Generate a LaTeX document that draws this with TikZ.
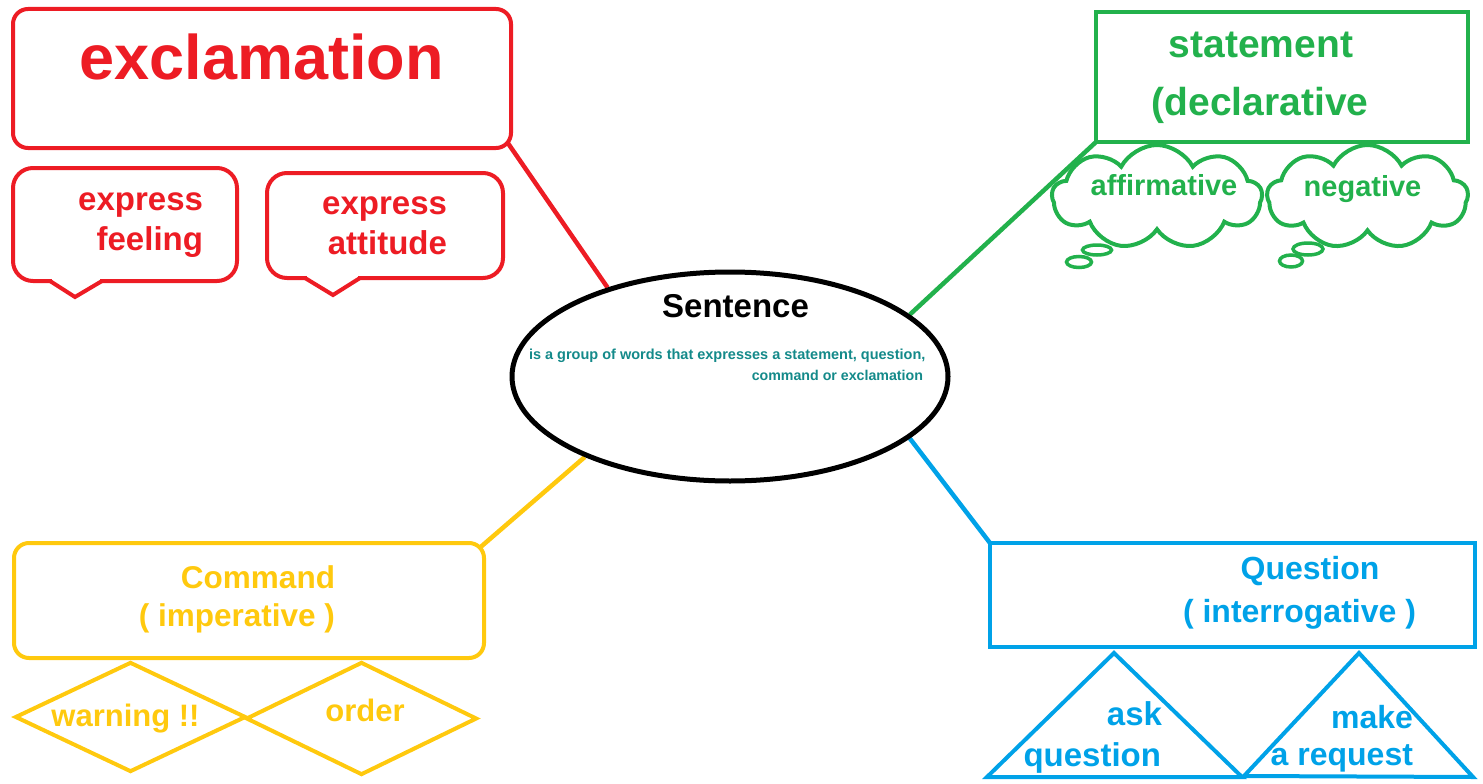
\documentclass[tikz,border=0pt]{standalone}
\usepackage{fontspec}
\setmainfont{Liberation Sans}
\usetikzlibrary{shapes.geometric,shapes.symbols,calc}
\definecolor{cred}{RGB}{237,28,36}
\definecolor{cgreen}{RGB}{34,177,76}
\definecolor{cyellow}{RGB}{255,201,14}
\definecolor{cblue}{RGB}{0,162,232}
\definecolor{cteal}{RGB}{20,138,138}
\pgfdeclarelayer{background}
\pgfsetlayers{background,main}
\newcommand{\fsz}[1]{\fontsize{#1}{#1}\selectfont\bfseries}
\begin{document}
\begin{tikzpicture}[x=1pt,y=-1pt,
  shapebox/.style={draw=#1, line width=4pt, inner sep=0pt, outer sep=0pt, fill=white},
  txt/.style={inner sep=0pt, outer sep=0pt, anchor=base},
  conn/.style={line width=4.5pt},
  cloudsh/.style={cloud, cloud puffs=9, cloud puff arc=125, aspect=2, draw=cgreen, line width=4pt, inner sep=0pt},
  puff/.style={ellipse, draw=cgreen, line width=3.5pt, inner sep=0pt},
  dia/.style={diamond, draw=cyellow, line width=4pt, inner sep=0pt},
  tri/.style={draw=cblue, line width=4pt, line join=miter},
  tail/.style={draw=cred, line width=4pt, line join=miter},
]
\useasboundingbox (0,0) rectangle (1483,784);

% exclamation
\node[shapebox=cred, rounded corners=15pt, minimum width=498pt, minimum height=139pt] (excl) at (262,78.5) {};
\node[txt, text=cred, font=\fsz{63}] (exclT) at (261.7,80) {exclamation};

% speech bubbles
\node[shapebox=cred, rounded corners=20pt, minimum width=224pt, minimum height=113pt] (bub1) at (125,224.5) {};
\fill[white] (52,278) rectangle (100,284);
\draw[tail] (50,281) -- (75,297) -- (102,281);
\node[txt, anchor=base east, text=cred, font=\fsz{33}] (b1a) at (203,210) {express};
\node[txt, anchor=base east, text=cred, font=\fsz{33}] (b1b) at (203,250.7) {feeling};

\node[shapebox=cred, rounded corners=20pt, minimum width=236pt, minimum height=105pt] (bub2) at (385,225.5) {};
\fill[white] (307,275) rectangle (358,281);
\draw[tail] (305,278) -- (333,295) -- (360,278);
\node[txt, anchor=base east, text=cred, font=\fsz{33}] (b2a) at (447,214) {express};
\node[txt, anchor=base east, text=cred, font=\fsz{33}] (b2b) at (447,254) {attitude};

% statement
\node[shapebox=cgreen, minimum width=372pt, minimum height=130pt] (stmt) at (1282,77) {};
\node[txt, text=cgreen, font=\fsz{39}] (stmtA) at (1261,58) {statement};
\node[txt, text=cgreen, font=\fsz{39}] (stmtB) at (1260,115) {(declarative};

% clouds
\node[cloudsh, minimum width=210pt, minimum height=104pt] (cl1) at (1157,197) {};
\node[puff, minimum width=29pt, minimum height=10pt] (p1a) at (1097,250) {};
\node[puff, minimum width=25pt, minimum height=11pt] (p1b) at (1079,262) {};
\node[txt, text=cgreen, font=\fsz{29}] (cl1T) at (1164,195) {affirmative};

\node[cloudsh, minimum width=201pt, minimum height=104pt] (cl2) at (1367.5,197) {};
\node[puff, minimum width=30pt, minimum height=12pt] (p2a) at (1308,249) {};
\node[puff, minimum width=23pt, minimum height=12pt] (p2b) at (1291,261) {};
\node[txt, text=cgreen, font=\fsz{29}] (cl2T) at (1362.5,196) {negative};

% sentence
\node[ellipse, draw=black, line width=5pt, fill=white, minimum width=436pt, minimum height=209pt, inner sep=0pt] (sent) at (730,376.5) {};
\node[txt, font=\fsz{33}] (sentT) at (735.5,317) {Sentence};
\node[txt, anchor=base west, text=cteal, font=\fsz{14.5}] (sentA) at (529,359) {is a group of words that expresses a statement, question,};
\node[txt, anchor=base east, text=cteal, font=\fsz{14.2}] (sentB) at (923,380) {command or exclamation};

% command
\node[shapebox=cyellow, rounded corners=15pt, minimum width=470pt, minimum height=115pt] (cmd) at (249,600.5) {};
\node[txt, anchor=base east, text=cyellow, font=\fsz{31.5}] (cmdA) at (335,588) {Command};
\node[txt, anchor=base east, text=cyellow, font=\fsz{31.5}] (cmdB) at (335,626) {( imperative )};

\node[dia, minimum width=231pt, minimum height=110pt] (d1) at (130.5,717) {};
\node[dia, minimum width=231pt, minimum height=113pt] (d2) at (361.5,718.5) {};
\node[txt, text=cyellow, font=\fsz{31}] (d1T) at (125.5,726) {warning !!};
\node[txt, text=cyellow, font=\fsz{31}] (d2T) at (365,721) {order};

% question
\node[shapebox=cblue, minimum width=485pt, minimum height=104pt] (qst) at (1232.5,595) {};
\node[txt, text=cblue, font=\fsz{32}] (qstA) at (1310,579) {Question};
\node[txt, text=cblue, font=\fsz{32}] (qstB) at (1299.5,622) {( interrogative )};

\coordinate (t1a) at (1114,653);
\coordinate (t1l) at (987,777);
\coordinate (t1r) at (1242,777);
\draw[tri] (t1a) -- (t1r) -- (t1l) -- cycle;
\coordinate (t2a) at (1359,653);
\coordinate (t2l) at (1244,776);
\coordinate (t2r) at (1473,777);
\draw[tri] (t2a) -- (t2r) -- (t2l) -- cycle;
\node[txt, anchor=base east, text=cblue, font=\fsz{33}] (t1A) at (1162,725) {ask};
\node[txt, anchor=base east, text=cblue, font=\fsz{33}] (t1B) at (1161,766) {question};
\node[txt, anchor=base east, text=cblue, font=\fsz{32}] (t2A) at (1413,728) {make};
\node[txt, anchor=base east, text=cblue, font=\fsz{32}] (t2B) at (1413,765) {a request};

% connectors
\begin{pgfonlayer}{background}
\draw[conn, cred] (sent.144.3) -- ($(excl.south east)+(-8,-12)$);
\draw[conn, cgreen] (sent.19.6) -- (stmt.south west);
\draw[conn, cyellow] (sent.209.3) -- ($(cmd.north east)+(-8,8)$);
\draw[conn, cblue] (sent.-19.4) -- (qst.north west);
\end{pgfonlayer}
\end{tikzpicture}
\end{document}
